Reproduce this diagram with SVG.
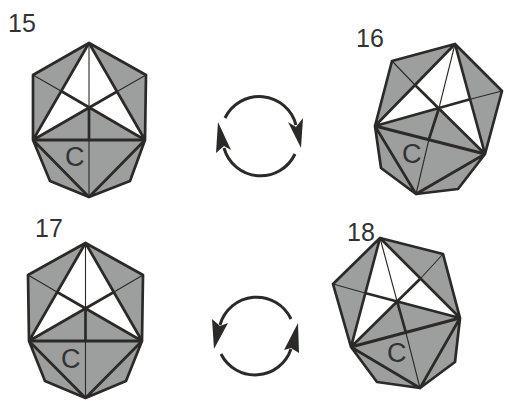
<svg xmlns="http://www.w3.org/2000/svg" width="509" height="405" viewBox="0 0 509 405">
<style>
text{font-family:"Liberation Sans",Arial,sans-serif;fill:#333}
.n{font-size:25px}.c{font-size:27px}
.g{fill:#9d9e9e;stroke:none}.w{fill:#fff;stroke:none}
.k{fill:none;stroke:#2b2a29;stroke-width:2.7;stroke-linejoin:round}
.b{fill:none;stroke:#2b2a29;stroke-width:3.2}
.t{fill:none;stroke:#2b2a29;stroke-width:1.1}
.a{fill:none;stroke:#2b2a29;stroke-width:3}
.h{fill:#2b2a29}
</style>
<rect width="509" height="405" fill="#fff"/>
<g id="node-15">
<polygon class="g" points="89,43 146,75 145,140 130,181 89,197 50,181 33,140 33,75"/>
<polygon class="w" points="89,43 118,91 145,140 89,108 33,140 61,91"/>
<path class="t" d="M89,43V108M89,140V197M33,75L61,91M146,75L118,91"/>
<path class="k" d="M89,43L146,75L145,140L130,181L89,197L50,181L33,140L33,75ZM89,43L33,140L89,197L145,140ZM33,140L118,91M145,140L61,91M89,108V140"/>
<path class="b" d="M33,140H145"/>
<text class="n" x="8" y="32">15</text><text class="c" x="65" y="166">C</text>
</g>
<g id="node-16">
<polygon class="g" points="455,44 502,91 485,154 458,189 416,194 381,168 375,126 392,61"/>
<polygon class="w" points="455,44 471,99 485,154 439,108 375,126 416,86"/>
<path class="t" d="M455,44L439,108M429,139L416,194M392,61L416,86M502,91L471,99"/>
<path class="k" d="M455,44L502,91L485,154L458,189L416,194L381,168L375,126L392,61ZM455,44L375,126L416,194L485,154ZM375,126L471,99M485,154L416,86M439,108L429,139"/>
<path class="b" d="M375,126L485,154"/>
<text class="n" x="356" y="47">16</text><text class="c" x="402" y="163">C</text>
</g>
<g id="node-17">
<polygon class="g" points="85.500,243 143,275 142,341 126,381 85.500,398 45,381 29,341 28,275"/>
<polygon class="w" points="85.500,243 114,292 142,341 85.500,308 29,341 57,292"/>
<path class="t" d="M85.500,243V308M85.500,341V398M28,275L57,292M143,275L114,292"/>
<path class="k" d="M85.500,243L143,275L142,341L126,381L85.500,398L45,381L29,341L28,275ZM85.500,243L29,341L85.500,398L142,341ZM29,341L114,292M142,341L57,292M85.500,308V341"/>
<path class="b" d="M29,341H142"/>
<text class="n" x="35" y="237">17</text><text class="c" x="61" y="368">C</text>
</g>
<g id="node-18">
<polygon class="g" points="380,238 443,254 460,318 455,362 420,388 377,382 351,347 333,284"/>
<polygon class="w" points="380,238 421,278 460,318 397,301 351,347 365,293"/>
<path class="t" d="M380,238L397,301M406,333L420,388M333,284L365,293M443,254L421,278"/>
<path class="k" d="M380,238L443,254L460,318L455,362L420,388L377,382L351,347L333,284ZM380,238L351,347L420,388L460,318ZM351,347L421,278M460,318L365,293M397,301L406,333"/>
<path class="b" d="M351,347L460,318"/>
<text class="n" x="347" y="241">18</text><text class="c" x="387" y="362">C</text>
</g>
<g id="connectors">
<path class="a" d="M225,118A38,38 0 0 1 296,125"/>
<polygon class="h" points="301,148 288,122 296,127 303,118"/>
<path class="a" d="M295,154A38,38 0 0 1 224,148"/>
<polygon class="h" points="218,122 231,150 224,146 216,153"/>
<path class="a" d="M291,319A38,38 0 0 0 220,325"/>
<polygon class="h" points="214,349 212,319 220,326 228,323"/>
<path class="a" d="M221,354A38,38 0 0 0 291,349"/>
<polygon class="h" points="298,323 284,350 291,348 299,353"/>
</g>
</svg>
